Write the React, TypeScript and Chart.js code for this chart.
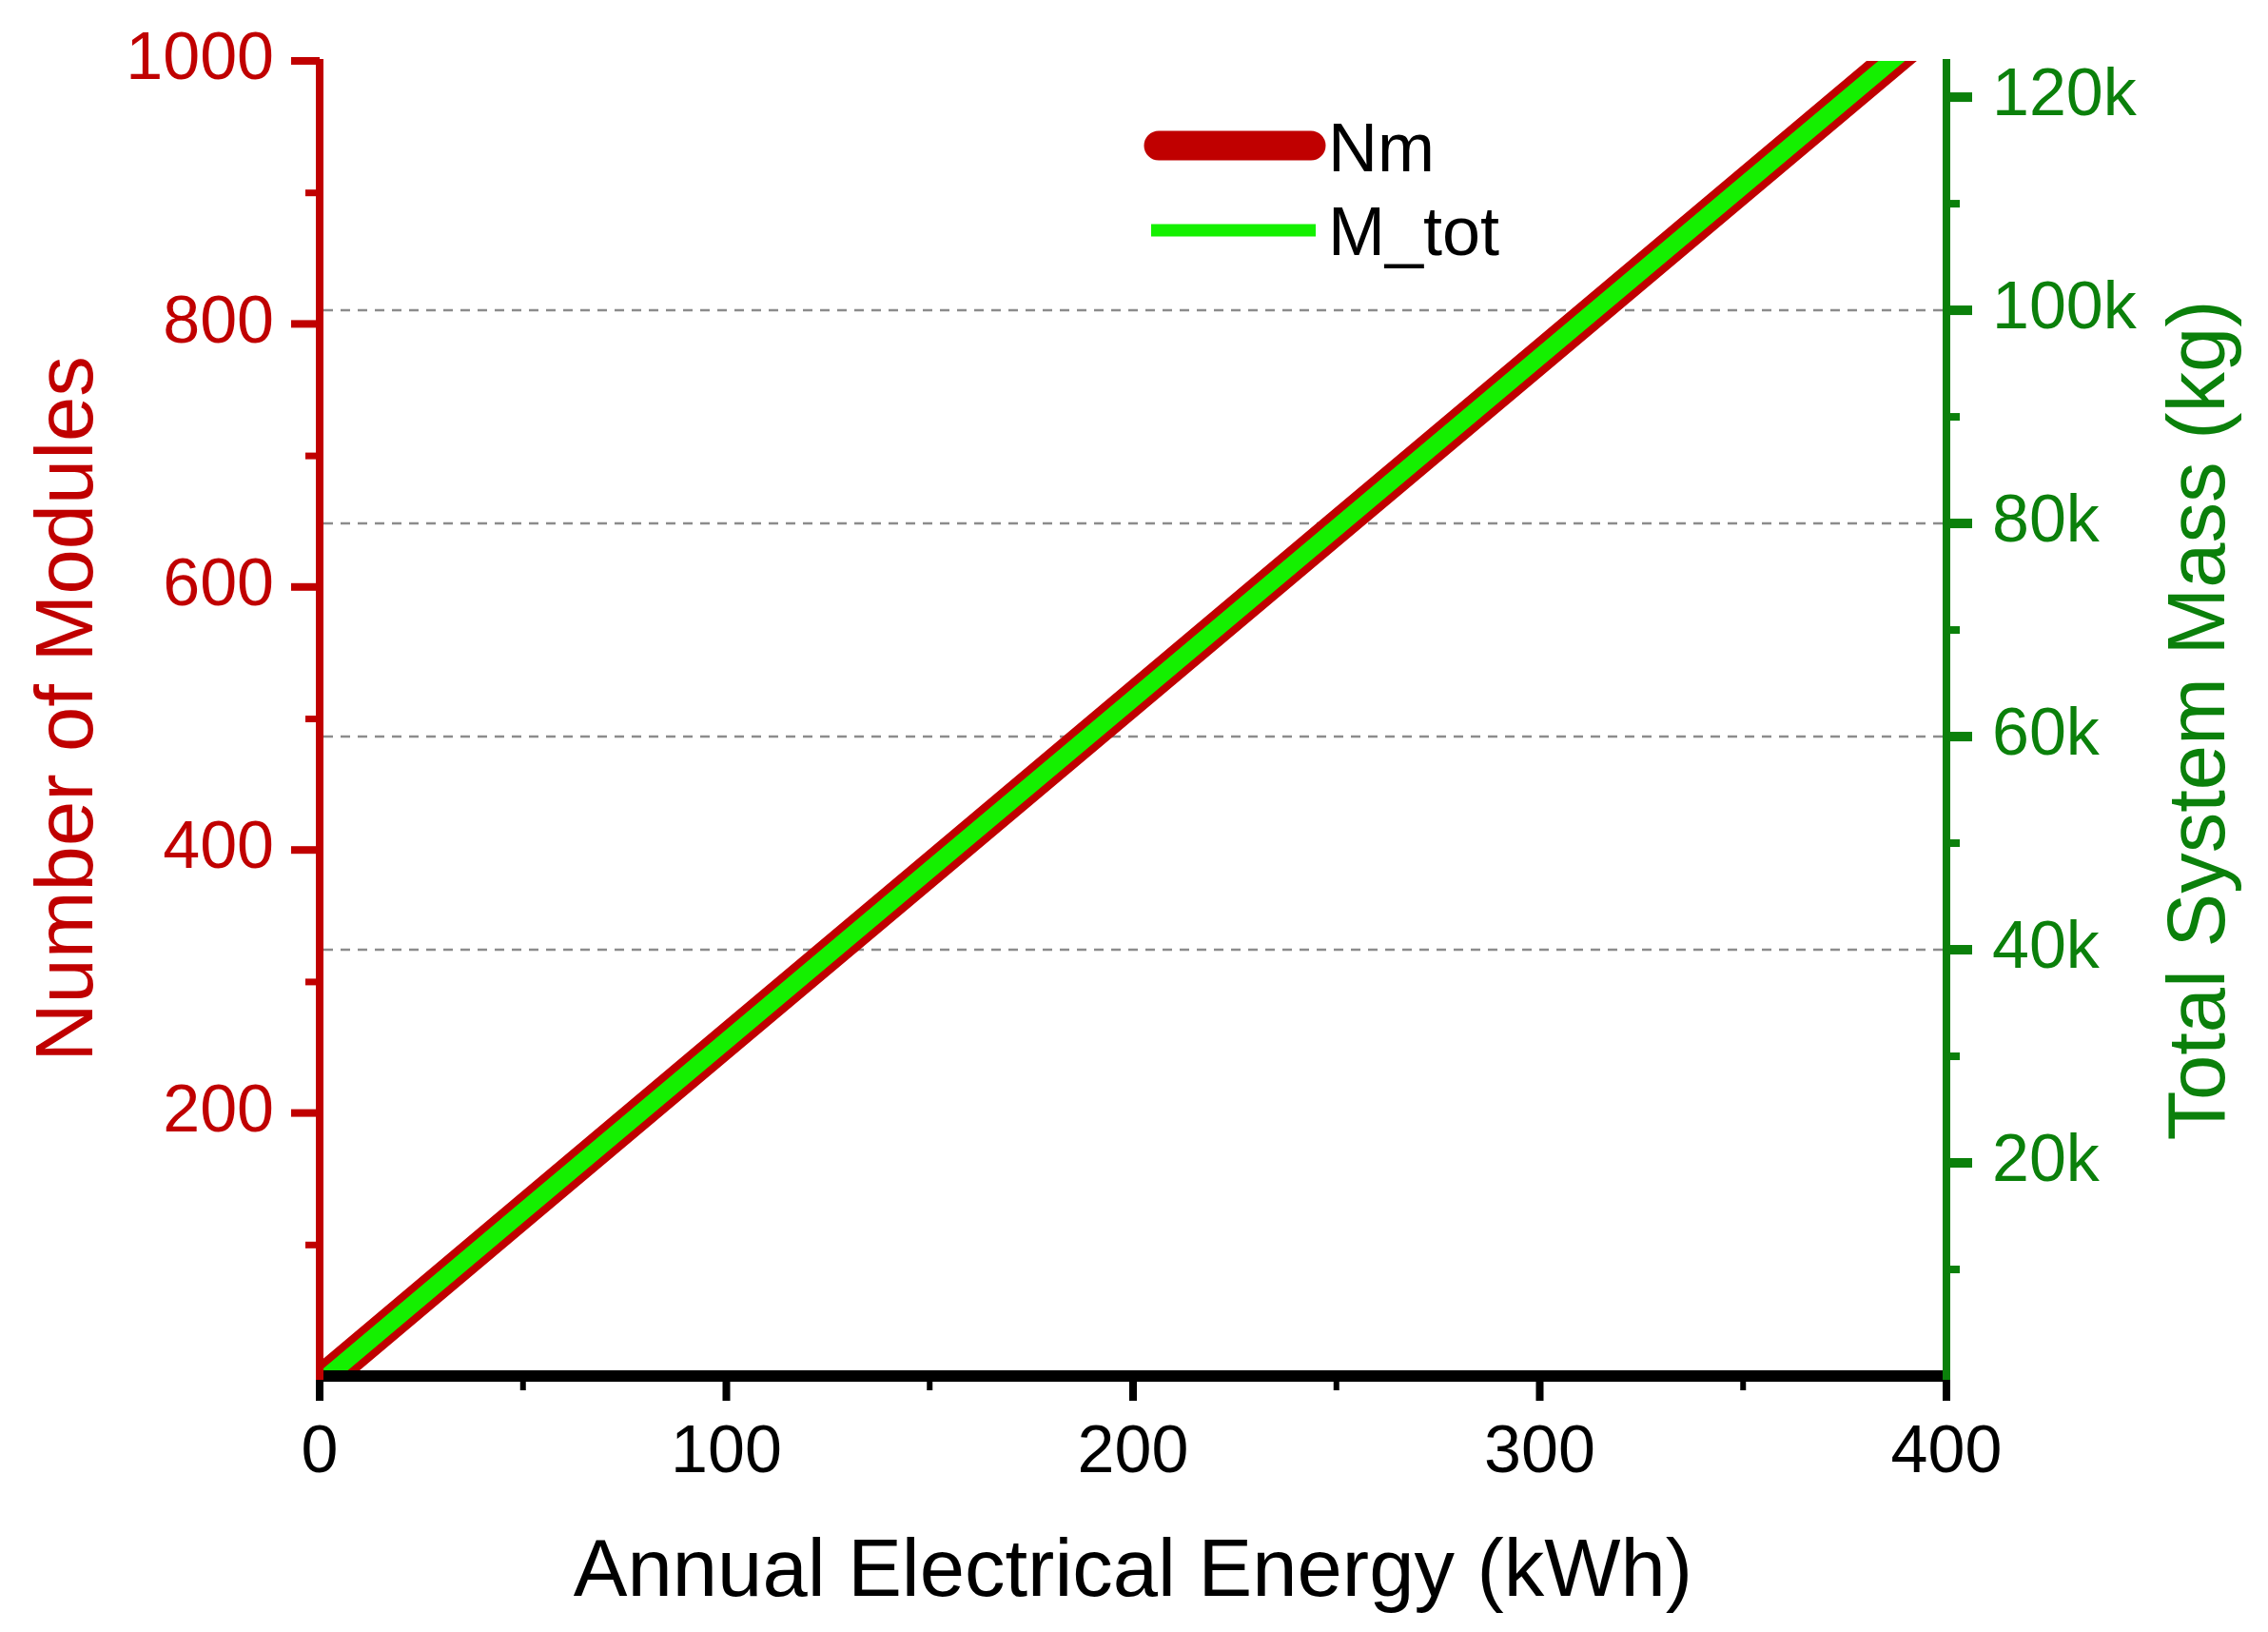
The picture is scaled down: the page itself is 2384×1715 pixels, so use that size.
import React, { useEffect, useRef } from 'react';
import { Chart, registerables } from 'chart.js';

Chart.register(...registerables);

// values
const energy = [2, 50, 100, 150, 200, 250, 300, 350, 400]; // kWh
const modules = [0, 125, 255, 385, 515, 645, 775, 905, 1035];
const mass = [0, 15430, 31470, 47510, 63550, 79590, 95640, 111680, 127720]; // kg

const xMajor = [0, 100, 200, 300, 400];
const xMinor = [50, 150, 250, 350];
const modMajor = [200, 400, 600, 800, 1000];
const modMinor = [100, 300, 500, 700, 900];
const massMajor = [20000, 40000, 60000, 80000, 100000, 120000];
const massMinor = [10000, 30000, 50000, 70000, 90000, 110000];
const massGrid = [40000, 60000, 80000, 100000];

const FONT = '"Liberation Sans", Arial, Helvetica, sans-serif';
const RED = '#C00000';
const DARK_GREEN = '#0B800B';
const LIME = '#14F000';

const decorations = {
  id: 'decorations',
  beforeDatasetsDraw(chart: any) {
    const { ctx, chartArea: a, scales } = chart;
    ctx.save();
    ctx.strokeStyle = '#8c8c8c';
    ctx.lineWidth = 2.5;
    ctx.setLineDash([10, 8]);
    massGrid.forEach((v) => {
      const py = scales.y1.getPixelForValue(v);
      ctx.beginPath();
      ctx.moveTo(a.left + 4, py);
      ctx.lineTo(a.right - 4, py);
      ctx.stroke();
    });
    ctx.restore();
  },
  afterDraw(chart: any) {
    const { ctx, chartArea: a, scales } = chart;
    const { x, y, y1 } = scales;
    ctx.save();

    // bottom axis
    ctx.fillStyle = '#000';
    ctx.fillRect(a.left - 4, a.bottom - 6, a.right - a.left + 8, 12);
    xMajor.forEach((v) => {
      const px = x.getPixelForValue(v);
      ctx.fillRect(px - 4, a.bottom, 8, 26);
    });
    xMinor.forEach((v) => {
      const px = x.getPixelForValue(v);
      ctx.fillRect(px - 3, a.bottom, 6, 15);
    });

    // left axis
    ctx.fillStyle = RED;
    ctx.fillRect(a.left - 4, a.top - 2, 8, a.bottom - a.top + 6);
    modMajor.forEach((v) => {
      const py = y.getPixelForValue(v);
      ctx.fillRect(a.left - 30, py - 4, 30, 8);
    });
    modMinor.forEach((v) => {
      const py = y.getPixelForValue(v);
      ctx.fillRect(a.left - 15, py - 3, 15, 7);
    });

    // right axis
    ctx.fillStyle = DARK_GREEN;
    ctx.fillRect(a.right - 4, a.top - 2, 8, a.bottom - a.top + 6);
    massMajor.forEach((v) => {
      const py = y1.getPixelForValue(v);
      ctx.fillRect(a.right, py - 5, 27, 10);
    });
    massMinor.forEach((v) => {
      const py = y1.getPixelForValue(v);
      ctx.fillRect(a.right, py - 4, 14, 8);
    });

    // axis titles reading bottom-to-top
    const mid = (a.top + a.bottom) / 2;
    ctx.font = `85px ${FONT}`;
    ctx.textAlign = 'center';
    ctx.textBaseline = 'alphabetic';
    ctx.save();
    ctx.translate(97, mid - 10);
    ctx.rotate(-Math.PI / 2);
    ctx.fillStyle = RED;
    ctx.fillText('Number of Modules', 0, 0);
    ctx.restore();
    ctx.save();
    ctx.translate(2338, mid + 2);
    ctx.rotate(-Math.PI / 2);
    ctx.fillStyle = DARK_GREEN;
    ctx.fillText('Total System Mass (kg)', 0, 0);
    ctx.restore();

    // legend
    ctx.lineCap = 'round';
    ctx.strokeStyle = RED;
    ctx.lineWidth = 31;
    ctx.beginPath();
    ctx.moveTo(1218, 153);
    ctx.lineTo(1378, 153);
    ctx.stroke();
    ctx.lineCap = 'butt';
    ctx.strokeStyle = LIME;
    ctx.lineWidth = 13;
    ctx.beginPath();
    ctx.moveTo(1210, 242);
    ctx.lineTo(1383, 242);
    ctx.stroke();
    ctx.fillStyle = '#000';
    ctx.font = `72px ${FONT}`;
    ctx.textAlign = 'left';
    ctx.fillText('Nm', 1396, 180);
    ctx.fillText('M_tot', 1396, 268);

    ctx.restore();
  },
};

const fixTicks = (values: number[]) => (s: any) => {
  s.ticks = values.map((v) => ({ value: v }));
};

const App: React.FC = () => {
  const canvasRef = useRef<HTMLCanvasElement>(null);
  const chartRef = useRef<Chart | null>(null);

  useEffect(() => {
    if (!canvasRef.current) return;
    if (chartRef.current) chartRef.current.destroy();

    const tickFont = { family: FONT, size: 70 };

    chartRef.current = new Chart(canvasRef.current, {
      type: 'line',
      data: {
        datasets: [
          {
            label: 'M_tot',
            data: energy.map((e, i) => ({ x: e, y: mass[i] })),
            yAxisID: 'y1',
            borderColor: LIME,
            borderWidth: 18,
            pointRadius: 0,
            clip: 0,
          },
          {
            label: 'Nm',
            data: energy.map((e, i) => ({ x: e, y: modules[i] })),
            yAxisID: 'y',
            borderColor: RED,
            borderWidth: 34,
            pointRadius: 0,
            clip: 0,
          },
        ],
      },
      options: {
        responsive: false,
        animation: false,
        devicePixelRatio: 1,
        layout: { padding: { top: 64, left: 0, right: 0, bottom: 0 } },
        plugins: { legend: { display: false }, tooltip: { enabled: false } },
        scales: {
          x: {
            type: 'linear',
            min: 0,
            max: 400,
            grid: { display: false, drawTicks: false },
            border: { display: false },
            ticks: {
              color: '#000',
              font: tickFont,
              padding: 40,
              maxRotation: 0,
              autoSkip: false,
              callback: (v: any) => String(v),
            },
            afterBuildTicks: fixTicks(xMajor),
            title: {
              display: true,
              text: 'Annual Electrical Energy (kWh)',
              color: '#000',
              font: { family: FONT, size: 85 },
              padding: { top: 0, bottom: 10 },
            },
            afterFit: (s: any) => {
              s.height = 269;
              s.paddingLeft = 0;
              s.paddingRight = 0;
            },
          },
          y: {
            type: 'linear',
            position: 'left',
            min: 0,
            max: 1000,
            grid: { display: false, drawTicks: false },
            border: { display: false },
            ticks: {
              color: RED,
              font: tickFont,
              padding: 48,
              autoSkip: false,
              callback: (v: any) => String(v),
            },
            afterBuildTicks: fixTicks(modMajor),
            afterFit: (s: any) => {
              s.width = 336;
              s.paddingTop = 0;
              s.paddingBottom = 0;
            },
          },
          y1: {
            type: 'linear',
            position: 'right',
            min: 0,
            max: 123400,
            grid: { display: false, drawTicks: false },
            border: { display: false },
            ticks: {
              color: DARK_GREEN,
              font: tickFont,
              padding: 48,
              autoSkip: false,
              callback: (v: any) => `${Math.round(v / 1000)}k`,
            },
            afterBuildTicks: fixTicks(massMajor),
            afterFit: (s: any) => {
              s.width = 338;
              s.paddingTop = 0;
              s.paddingBottom = 0;
            },
          },
        },
      },
      plugins: [decorations],
    });

    return () => {
      if (chartRef.current) {
        chartRef.current.destroy();
        chartRef.current = null;
      }
    };
  }, []);

  return (
    <div style={{ position: 'absolute', left: 0, top: 0, width: 2384, height: 1715, background: '#fff' }}>
      <canvas ref={canvasRef} width={2384} height={1715} style={{ display: 'block' }} />
    </div>
  );
};

export default App;
